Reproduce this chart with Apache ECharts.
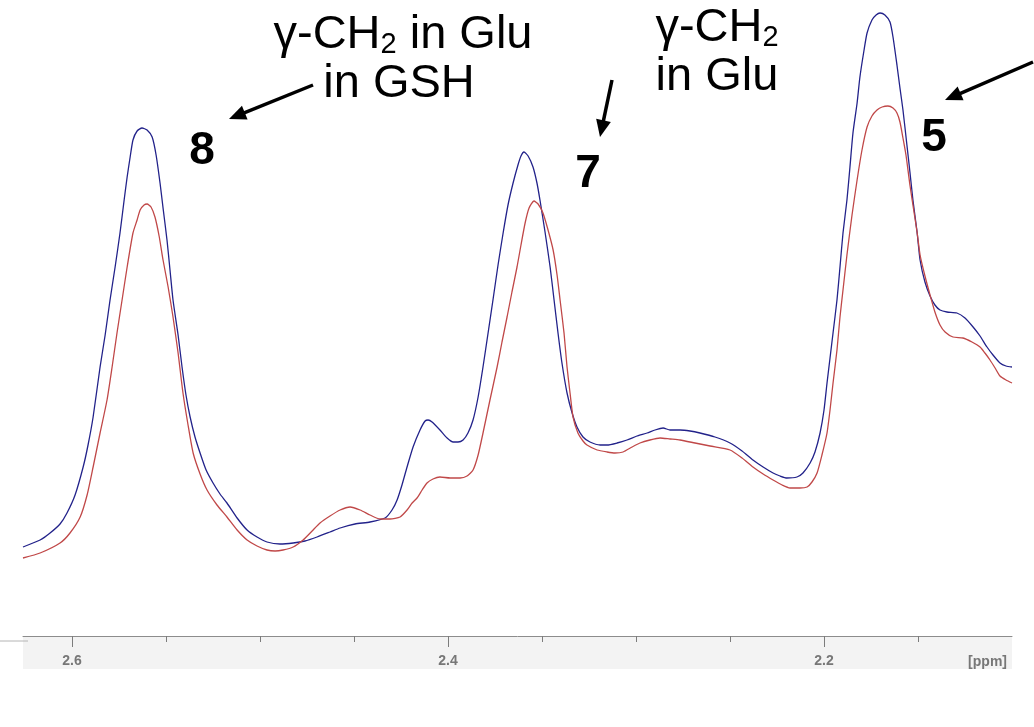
<!DOCTYPE html>
<html>
<head>
<meta charset="utf-8">
<script src="https://cdn.jsdelivr.net/npm/echarts@6/dist/echarts.min.js"></script>
<style>
html,body{margin:0;padding:0;background:#fff;}
#chart{width:1034px;height:727px;}
</style>
</head>
<body>
<div id="chart"></div>
<script>
// Chemical shift (ppm) and intensity (a.u.)
const ppmBlue = [2.6261,2.6170,2.6117,2.6064,2.6027,2.5984,2.5941,2.5915,2.5888,2.5851,2.5824,2.5798,2.5771,2.5745,2.5723,2.5707,2.5691,2.5676,2.5654,2.5628,2.5601,2.5574,2.5553,2.5532,2.5516,2.5495,2.5479,2.5463,2.5436,2.5415,2.5394,2.5372,2.5346,2.5319,2.5287,2.5250,2.5213,2.5176,2.5122,2.5069,2.5016,2.4963,2.4894,2.4824,2.4761,2.4697,2.4628,2.4574,2.4495,2.4415,2.4335,2.4298,2.4271,2.4245,2.4218,2.4186,2.4149,2.4122,2.4106,2.4085,2.4043,2.4005,2.3973,2.3947,2.3920,2.3894,2.3867,2.3840,2.3814,2.3787,2.3761,2.3734,2.3707,2.3681,2.3654,2.3628,2.3612,2.3596,2.3574,2.3548,2.3527,2.3511,2.3484,2.3457,2.3436,2.3415,2.3394,2.3367,2.3340,2.3314,2.3282,2.3245,2.3191,2.3154,2.3101,2.3048,2.2995,2.2941,2.2899,2.2856,2.2819,2.2766,2.2713,2.2660,2.2580,2.2500,2.2436,2.2378,2.2324,2.2271,2.2234,2.2197,2.2144,2.2112,2.2074,2.2048,2.2021,2.2000,2.1984,2.1968,2.1952,2.1931,2.1915,2.1899,2.1878,2.1862,2.1846,2.1824,2.1809,2.1787,2.1771,2.1745,2.1723,2.1702,2.1676,2.1649,2.1633,2.1612,2.1596,2.1580,2.1559,2.1543,2.1527,2.1505,2.1489,2.1463,2.1436,2.1410,2.1383,2.1346,2.1293,2.1250,2.1207,2.1170,2.1133,2.1101,2.1064,2.1032,2.1000];
const intensityBlue = [8.9,9.6,10.3,11.2,12.3,14.1,16.9,19.1,21.9,26.9,30.1,33.6,36.9,40.3,43.6,45.9,47.9,49.6,50.5,50.8,50.6,49.9,48.1,45.3,42.8,39.6,36.6,33.6,30.1,26.9,24.1,21.9,19.9,18.3,16.6,15.3,14.2,13.3,11.8,10.6,9.9,9.4,9.2,9.3,9.5,9.9,10.4,10.8,11.2,11.4,11.8,12.6,13.6,15.1,16.9,18.9,20.6,21.5,21.6,21.4,20.6,19.8,19.4,19.4,19.6,20.3,21.6,23.9,26.9,30.3,33.6,37.1,40.3,43.1,45.3,47.1,48.0,48.4,48.0,46.9,45.3,43.6,40.4,36.9,33.6,30.3,27.3,24.3,22.3,20.9,19.9,19.4,19.1,19.1,19.3,19.6,20.0,20.3,20.6,20.8,20.6,20.6,20.5,20.3,19.9,19.3,18.5,17.6,16.9,16.3,16.0,15.8,15.9,16.3,17.3,18.4,20.3,22.6,25.3,27.8,30.3,33.6,36.9,40.3,43.6,46.9,50.3,53.3,55.9,58.6,60.3,61.6,62.1,62.3,62.1,61.4,59.9,57.1,54.8,52.6,49.1,46.4,43.6,40.4,37.6,35.4,34.0,33.1,32.6,32.4,32.3,31.8,30.9,30.0,28.9,28.1,27.3,27.0,26.9];
const ppmRed = [2.6261,2.6170,2.6064,2.6011,2.5957,2.5920,2.5888,2.5851,2.5814,2.5787,2.5761,2.5734,2.5707,2.5676,2.5654,2.5638,2.5617,2.5601,2.5580,2.5559,2.5537,2.5516,2.5489,2.5463,2.5436,2.5410,2.5383,2.5356,2.5319,2.5282,2.5229,2.5176,2.5122,2.5069,2.5016,2.4963,2.4920,2.4878,2.4824,2.4771,2.4723,2.4681,2.4628,2.4574,2.4521,2.4468,2.4415,2.4362,2.4309,2.4255,2.4218,2.4191,2.4165,2.4138,2.4112,2.4080,2.4043,2.3989,2.3936,2.3899,2.3867,2.3840,2.3814,2.3777,2.3739,2.3713,2.3686,2.3660,2.3633,2.3612,2.3590,2.3569,2.3543,2.3521,2.3495,2.3468,2.3441,2.3420,2.3404,2.3383,2.3367,2.3351,2.3335,2.3309,2.3282,2.3261,2.3207,2.3154,2.3112,2.3069,2.3021,2.2979,2.2926,2.2872,2.2819,2.2766,2.2686,2.2606,2.2500,2.2436,2.2378,2.2324,2.2271,2.2223,2.2181,2.2128,2.2090,2.2064,2.2037,2.2011,2.1984,2.1968,2.1952,2.1931,2.1915,2.1899,2.1878,2.1851,2.1824,2.1798,2.1771,2.1745,2.1718,2.1691,2.1660,2.1633,2.1612,2.1596,2.1580,2.1564,2.1543,2.1527,2.1505,2.1489,2.1463,2.1436,2.1410,2.1383,2.1356,2.1314,2.1261,2.1213,2.1170,2.1144,2.1117,2.1090,2.1064,2.1032,2.1000];
const intensityRed = [7.8,8.3,9.3,10.3,11.9,14.1,16.9,20.3,23.6,26.9,30.3,33.6,36.9,40.3,41.6,42.6,43.1,43.2,42.9,41.9,40.0,37.6,34.9,31.9,28.3,24.3,21.1,18.3,16.2,14.6,13.1,11.9,10.6,9.6,9.0,8.6,8.5,8.6,8.9,9.6,10.5,11.3,12.0,12.6,12.9,12.6,12.1,11.7,11.7,11.9,12.6,13.3,13.8,14.6,15.3,15.7,15.9,15.8,15.8,16.0,16.6,18.1,20.3,23.6,26.9,29.4,31.9,34.4,36.9,39.1,41.3,42.8,43.5,43.2,42.3,40.6,38.6,36.1,33.6,30.3,26.9,24.3,21.9,20.3,19.5,19.1,18.6,18.4,18.3,18.4,18.9,19.3,19.6,19.8,19.7,19.6,19.3,19.0,18.6,17.8,16.9,16.2,15.6,15.1,14.8,14.8,14.9,15.4,16.3,18.1,20.3,22.6,25.3,28.6,31.9,34.6,38.1,42.1,45.6,48.6,50.9,52.0,52.6,52.9,53.0,52.8,52.3,51.4,49.8,48.1,45.1,43.1,40.4,38.1,36.0,34.1,32.4,31.1,30.4,29.9,29.8,29.4,28.9,28.3,27.6,26.8,26.0,25.6,25.3];
const majorTicks = [2.6, 2.4, 2.2];
const minorTicks = [2.55, 2.5, 2.45, 2.35, 2.3, 2.25, 2.15];
const axisUnit = '[ppm]';
const annotations = [
  {lines: ['{m|γ-CH}{s|2}{m| in Glu}', '{m|in GSH}'], label: '8'},
  {lines: ['{m|γ-CH}{s|2}', '{m|in Glu}'], label: '7'},
  {lines: [], label: '5'}
];

const FONT = '"Liberation Sans", Arial, sans-serif';
const chart = echarts.init(document.getElementById('chart'), null, {renderer: 'canvas'});

function arrow(tail, tip) {
  const dx = tip[0] - tail[0], dy = tip[1] - tail[1];
  const L = Math.sqrt(dx * dx + dy * dy);
  const ux = dx / L, uy = dy / L;
  const hl = 17, hw = 7.5;
  const bx = tip[0] - hl * ux, by = tip[1] - hl * uy;
  const px = -uy, py = ux;
  return [
    {type: 'line', shape: {x1: tail[0], y1: tail[1], x2: bx + ux * 2, y2: by + uy * 2},
     style: {stroke: '#000', lineWidth: 3.5}, z: 10},
    {type: 'polygon', shape: {points: [tip, [bx + hw * px, by + hw * py], [bx - hw * px, by - hw * py]]},
     style: {fill: '#000'}, z: 10}
  ];
}

const rich = {
  m: {fontSize: 47, lineHeight: 48, fontFamily: FONT, color: '#000'},
  s: {fontSize: 29, lineHeight: 26, fontFamily: FONT, color: '#000', verticalAlign: 'bottom'}
};
function txt(text, x, y) {
  return {type: 'text', x: x, y: y, z: 10,
    style: {text: text, rich: rich, align: 'center', verticalAlign: 'middle', font: '47px ' + FONT, fill: '#000'}};
}
function num(text, x, y) {
  return {type: 'text', x: x, y: y, z: 10,
    style: {text: text, align: 'center', verticalAlign: 'middle', font: 'bold 46px ' + FONT, fill: '#000'}};
}

const AXIS_Y = 636;
const graphics = [
  {type: 'rect', shape: {x: 23, y: 637, width: 989, height: 32}, style: {fill: '#f3f3f3'}, z: -100, silent: true},
  {type: 'line', shape: {x1: 0, y1: 641, x2: 28, y2: 641}, style: {stroke: '#b4b4b4', lineWidth: 1}, z: -50},
  {type: 'text', x: 1007, y: 662, style: {text: axisUnit, align: 'right', verticalAlign: 'middle', font: 'bold 14px ' + FONT, fill: '#777'}},
  txt(annotations[0].lines[0], 403, 35.5),
  txt(annotations[0].lines[1], 399, 84.5),
  txt(annotations[1].lines[0], 717, 28.5),
  txt(annotations[1].lines[1], 717, 77.5),
  num(annotations[0].label, 202, 151),
  num(annotations[1].label, 588, 174),
  num(annotations[2].label, 934, 138)
].concat(arrow([313, 85], [229, 119]))
 .concat(arrow([612, 80], [600, 137]))
 .concat(arrow([1033, 62], [945, 100]));

const option = {
  animation: false,
  backgroundColor: '#fff',
  grid: [
    {left: 23, right: 22, top: 6, bottom: 91},
    {left: 23, right: 22, top: 636, height: 33}
  ],
  xAxis: [
    {
      type: 'value', gridIndex: 0, position: 'bottom', inverse: true,
      min: 2.1, max: 2.6261,
      axisLine: {show: true, onZero: false, lineStyle: {color: '#8c8c8c', width: 1}},
      axisTick: {show: false},
      axisLabel: {show: true, customValues: majorTicks, formatter: v => v.toFixed(1), margin: 18,
        color: '#777', fontWeight: 'bold', fontSize: 14, fontFamily: FONT},
      splitLine: {show: false}
    },
    {
      type: 'value', gridIndex: 1, position: 'top', inverse: true,
      min: 2.1, max: 2.6261,
      axisLine: {show: false, onZero: false},
      axisTick: {show: true, inside: true, customValues: minorTicks, length: 6, lineStyle: {color: '#7c7c7c', width: 1}},
      axisLabel: {show: false},
      splitLine: {show: false}
    }
  ],
  yAxis: [
    {type: 'value', gridIndex: 0, min: 0, max: 63, show: false},
    {type: 'value', gridIndex: 1, min: 0, max: 1, show: false}
  ],
  series: [
    {name: 'blue', type: 'line', xAxisIndex: 0, yAxisIndex: 0, showSymbol: false, smooth: 0.2,
     data: ppmBlue.map((p, i) => [p, intensityBlue[i]]),
     lineStyle: {color: '#22228a', width: 1.3}, itemStyle: {color: '#22228a'}},
    {name: 'red', type: 'line', xAxisIndex: 0, yAxisIndex: 0, showSymbol: false, smooth: 0.2,
     data: ppmRed.map((p, i) => [p, intensityRed[i]]),
     lineStyle: {color: '#c04848', width: 1.3}, itemStyle: {color: '#c04848'}}
  ],
  graphic: graphics
};
chart.setOption(option);

// Major ticks placed through the axis scale
const majorTickLines = majorTicks.map(v => {
  const x = Math.round(chart.convertToPixel({xAxisIndex: 0}, v)) + 0.5;
  return {type: 'line', shape: {x1: x, y1: AXIS_Y, x2: x, y2: AXIS_Y + 11},
          style: {stroke: '#7c7c7c', lineWidth: 1}, z: 50, silent: true};
});
chart.setOption({graphic: graphics.concat(majorTickLines)}, {replaceMerge: ['graphic']});
</script>
</body>
</html>
